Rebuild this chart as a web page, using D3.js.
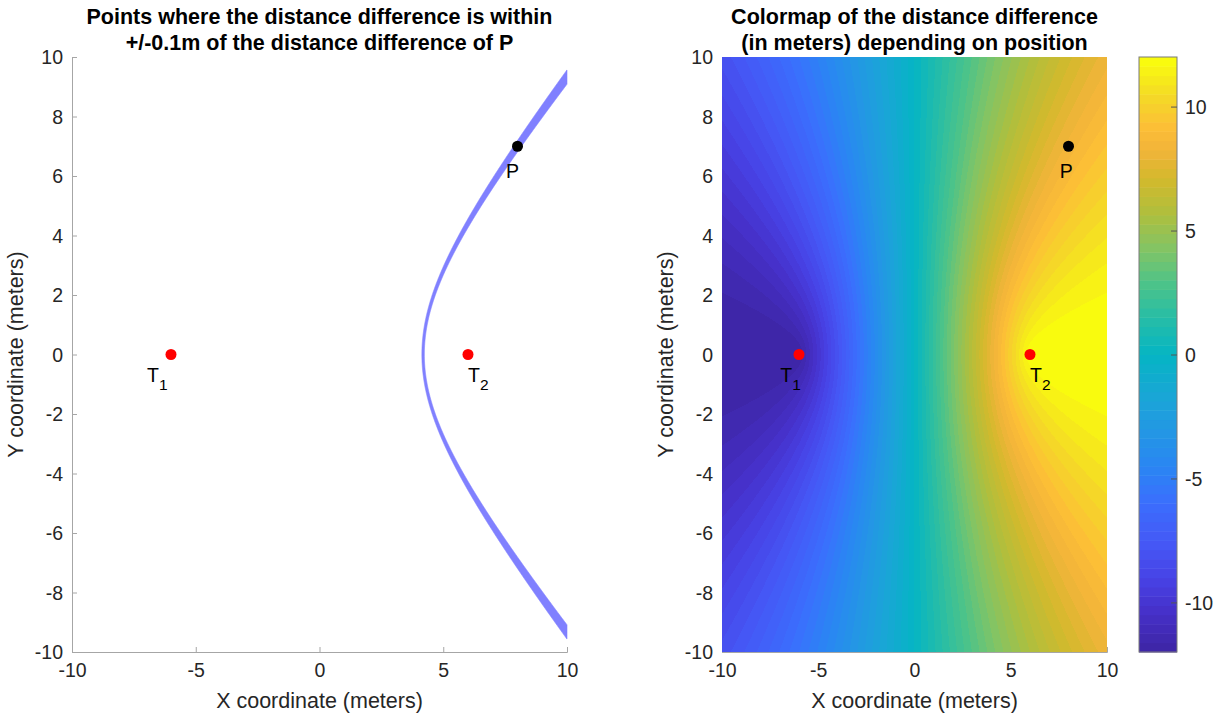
<!DOCTYPE html>
<html>
<head>
<meta charset="utf-8">
<script src="https://cdn.jsdelivr.net/npm/d3@7"></script>
<style>
  html, body { margin: 0; padding: 0; background: #fff; }
  svg { display: block; font-family: "Liberation Sans", Arial, Helvetica, sans-serif; }
</style>
</head>
<body>
<svg id="fig" width="1217" height="718"></svg>
<script>
// Transmitter and reference-point positions (meters)
const transmitterNames = ["T", "T"];
const transmitterSubs = ["1", "2"];
const transmitterX = [-6, 6];
const transmitterY = [0, 0];
const pointName = "P";
const pointX = 8;
const pointY = 7;
const tolerance = 0.1;

// Axis domains and tick values
const xDomain = [-10, 10];
const yDomain = [-10, 10];
const xTicks = [-10, -5, 0, 5, 10];
const yTicks = [-10, -8, -6, -4, -2, 0, 2, 4, 6, 8, 10];
const cDomain = [-12, 12];
const cTicks = [-10, -5, 0, 5, 10];

const titlesLeft = ["Points where the distance difference is within", "+/-0.1m of the distance difference of P"];
const titlesRight = ["Colormap of the distance difference", "(in meters) depending on position"];
const xLabel = "X coordinate (meters)";
const yLabel = "Y coordinate (meters)";

// parula-style colormap anchors
const parulaStops = [
  [0.00, "#3e26a8"], [0.06, "#4630c8"], [0.12, "#4743e6"], [0.18, "#4559f6"],
  [0.25, "#3a6ffd"], [0.31, "#2a86f3"], [0.37, "#2397e4"], [0.43, "#19a6d6"],
  [0.50, "#05b5c4"], [0.56, "#25bda8"], [0.62, "#4cc38a"], [0.68, "#82c465"],
  [0.74, "#aebf3e"], [0.80, "#d3b92c"], [0.85, "#f2b43a"], [0.89, "#fcbf36"],
  [0.94, "#f4d927"], [1.00, "#f9fb0e"]
];
const nColors = 64;

const svg = d3.select("#fig");
const tickFont = 19.5, labelFont = 21.5, titleFont = 21.5;
const axisGray = "#a6a6a6", textColor = "#262626";
const fmt = d => String(d);   // plain hyphen-minus, as in the tick labels

const dist = (x1, y1, x2, y2) => Math.hypot(x1 - x2, y1 - y2);
const diffAt = (x, y) =>
  dist(x, y, transmitterX[0], transmitterY[0]) - dist(x, y, transmitterX[1], transmitterY[1]);
const diffP = diffAt(pointX, pointY);

const stopScale = d3.scaleLinear()
  .domain(parulaStops.map(d => d[0]))
  .range(parulaStops.map(d => d[1]))
  .interpolate(d3.interpolateRgb);
const palette = d3.range(nColors).map(i => d3.rgb(stopScale(i / (nColors - 1))));
const colorIndex = v => {
  const t = (v - cDomain[0]) / (cDomain[1] - cDomain[0]);
  return Math.max(0, Math.min(nColors - 1, Math.floor(t * nColors)));
};

function makeAxes(box) {
  const x = d3.scaleLinear().domain(xDomain).range([box.x0, box.x1]);
  const y = d3.scaleLinear().domain(yDomain).range([box.y1, box.y0]);
  return { x, y };
}

function drawAxes(g, s, box) {
  const xa = g.append("g").attr("transform", `translate(0,${box.y1})`)
    .call(d3.axisBottom(s.x).tickValues(xTicks).tickSize(-5).tickPadding(11).tickFormat(fmt));
  const ya = g.append("g").attr("transform", `translate(${box.x0},0)`)
    .call(d3.axisLeft(s.y).tickValues(yTicks).tickSize(-5).tickPadding(9).tickFormat(fmt));
  [xa, ya].forEach(a => {
    a.select(".domain").attr("stroke", axisGray).attr("stroke-width", 1);
    a.selectAll(".tick line").attr("stroke", axisGray);
    a.selectAll(".tick text").attr("fill", textColor).attr("font-size", tickFont)
      .attr("font-family", "Liberation Sans, Arial, sans-serif");
  });
  xa.selectAll(".tick text").attr("dy", "0.71em");
  ya.selectAll(".tick text").attr("dy", "0.35em");
}

function drawLabels(g, box, titles) {
  const cx = (box.x0 + box.x1) / 2;
  g.append("text").attr("x", cx).attr("y", 708).attr("text-anchor", "middle")
    .attr("font-size", labelFont).attr("fill", textColor).text(xLabel);
  g.append("text").attr("transform", `translate(${box.x0 - 49},${(box.y0 + box.y1) / 2}) rotate(-90)`)
    .attr("text-anchor", "middle").attr("font-size", labelFont).attr("fill", textColor).text(yLabel);
  titles.forEach((t, i) => {
    g.append("text").attr("x", cx).attr("y", 24 + i * 26).attr("text-anchor", "middle")
      .attr("font-size", titleFont).attr("font-weight", "bold").attr("fill", "#000").text(t);
  });
}

function drawMarkers(g, s) {
  transmitterX.forEach((tx, i) => {
    g.append("circle").attr("cx", s.x(tx)).attr("cy", s.y(transmitterY[i])).attr("r", 5.5).attr("fill", "#ff0000");
    const lx = i === 0 ? tx - 0.97 : tx;
    const t = g.append("text").attr("x", s.x(lx)).attr("y", s.y(transmitterY[i] - 0.93))
      .attr("font-size", tickFont).attr("fill", "#000");
    t.append("tspan").text(transmitterNames[i]);
    t.append("tspan").attr("dy", 8).attr("font-size", 15.5).text(transmitterSubs[i]);
  });
  g.append("circle").attr("cx", s.x(pointX)).attr("cy", s.y(pointY)).attr("r", 5.5).attr("fill", "#000");
  g.append("text").attr("x", s.x(pointX - 0.46)).attr("y", s.y(pointY - 1.07))
    .attr("font-size", tickFont).attr("fill", "#000").text(pointName);
}

// ---------- Left panel: band of constant distance difference ----------
const boxL = { x0: 72, x1: 567, y0: 57, y1: 652 };
const sL = makeAxes(boxL);
const gL = svg.append("g");
drawAxes(gL, sL, boxL);

const cFocus = (transmitterX[1] - transmitterX[0]) / 2;
const branch = (a) => {
  const b2 = cFocus * cFocus - a * a;
  return yy => a * Math.sqrt(1 + yy * yy / b2);
};
const inner = branch((diffP - tolerance) / 2);
const outer = branch((diffP + tolerance) / 2);
const ys = d3.range(yDomain[0], yDomain[1] + 1e-9, 0.02);
const leftEdge = ys.filter(yy => inner(yy) <= xDomain[1]).map(yy => [inner(yy), yy]);
const yLo = leftEdge[0][1], yHi = leftEdge[leftEdge.length - 1][1];
const rightEdge = ys.filter(yy => yy >= yLo && yy <= yHi)
  .map(yy => [Math.min(outer(yy), xDomain[1]), yy]).reverse();
const bandPoly = leftEdge.concat(rightEdge);
gL.append("path")
  .attr("d", d3.line().x(d => sL.x(d[0])).y(d => sL.y(d[1]))(bandPoly) + "Z")
  .attr("fill", "#8080ff").attr("stroke", "#8080ff").attr("stroke-width", 0.6);
drawMarkers(gL, sL);
drawLabels(gL, boxL, titlesLeft);

// ---------- Right panel: colormap of the distance difference ----------
const boxR = { x0: 722, x1: 1107, y0: 57, y1: 652 };
const sR = makeAxes(boxR);
const gR = svg.append("g");
drawAxes(gR, sR, boxR);

const W = boxR.x1 - boxR.x0, H = boxR.y1 - boxR.y0;
const canvas = document.createElement("canvas");
canvas.width = W; canvas.height = H;
const ctx = canvas.getContext("2d");
const img = ctx.createImageData(W, H);
for (let j = 0; j < H; j++) {
  const yy = sR.y.invert(boxR.y0 + j + 0.5);
  for (let i = 0; i < W; i++) {
    const xx = sR.x.invert(boxR.x0 + i + 0.5);
    const c = palette[colorIndex(diffAt(xx, yy))];
    const k = (j * W + i) * 4;
    img.data[k] = c.r; img.data[k + 1] = c.g; img.data[k + 2] = c.b; img.data[k + 3] = 255;
  }
}
ctx.putImageData(img, 0, 0);
gR.append("image").attr("x", boxR.x0).attr("y", boxR.y0).attr("width", W).attr("height", H)
  .attr("preserveAspectRatio", "none").attr("href", canvas.toDataURL());
drawMarkers(gR, sR);
drawLabels(gR, boxR, titlesRight);

// ---------- Colorbar ----------
const cb = { x0: 1139, x1: 1177, y0: 57, y1: 652 };
const cScale = d3.scaleLinear().domain(cDomain).range([cb.y1, cb.y0]);
const gC = svg.append("g");
const step = (cDomain[1] - cDomain[0]) / nColors;
gC.selectAll("rect.cb").data(palette).join("rect").attr("class", "cb")
  .attr("x", cb.x0).attr("width", cb.x1 - cb.x0)
  .attr("y", (d, i) => cScale(cDomain[0] + (i + 1) * step))
  .attr("height", (d, i) => cScale(cDomain[0] + i * step) - cScale(cDomain[0] + (i + 1) * step) + 0.5)
  .attr("fill", d => d.toString());
gC.append("rect").attr("x", cb.x0).attr("y", cb.y0).attr("width", cb.x1 - cb.x0).attr("height", cb.y1 - cb.y0)
  .attr("fill", "none").attr("stroke", "#7a7a7a").attr("stroke-width", 1);
const ca = gC.append("g").attr("transform", `translate(${cb.x1},0)`)
  .call(d3.axisRight(cScale).tickValues(cTicks).tickSize(-6).tickPadding(8).tickFormat(fmt));
ca.select(".domain").remove();
ca.selectAll(".tick line").attr("stroke", "#555");
ca.selectAll(".tick text").attr("fill", textColor).attr("font-size", tickFont).attr("dy", "0.35em")
  .attr("font-family", "Liberation Sans, Arial, sans-serif");
</script>
</body>
</html>
